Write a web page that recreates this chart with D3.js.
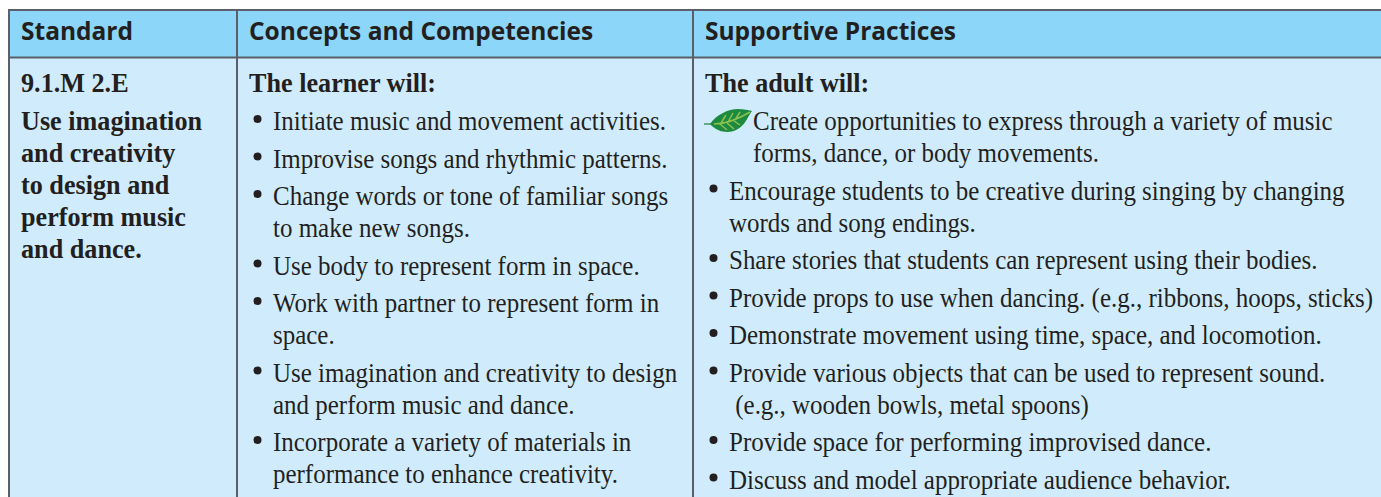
<!DOCTYPE html>
<html>
<head>
<meta charset="utf-8">
<title>Music and Dance Standard</title>
<script src="https://d3js.org/d3.v7.min.js"></script>
<style>
  html, body { margin: 0; padding: 0; background: #fff; overflow: hidden; }
  svg { display: block; }
  .head { font-family: "Open Sans", sans-serif; font-weight: 700; font-size: 25px; fill: #231f20; }
  .bold { font-family: "Liberation Serif", serif; font-weight: 700; font-size: 27px; fill: #231f20; }
  .body { font-family: "Liberation Serif", serif; font-size: 28px; fill: #231f20; }
</style>
</head>
<body>
<script>
var headers = ["Standard", "Concepts and Competencies", "Supportive Practices"];

var standardId = "9.1.M 2.E";
var standardText = ["Use imagination", "and creativity", "to design and", "perform music", "and dance."];

var learnerTitle = "The learner will:";
var learnerItems = [
  ["Initiate music and movement activities."],
  ["Improvise songs and rhythmic patterns."],
  ["Change words or tone of familiar songs", "to make new songs."],
  ["Use body to represent form in space."],
  ["Work with partner to represent form in", "space."],
  ["Use imagination and creativity to design", "and perform music and dance."],
  ["Incorporate a variety of materials in", "performance to enhance creativity."]
];

var adultTitle = "The adult will:";
var adultItems = [
  ["Create opportunities to express through a variety of music", "forms, dance, or body movements."],
  ["Encourage students to be creative during singing by changing", "words and song endings."],
  ["Share stories that students can represent using their bodies."],
  ["Provide props to use when dancing. (e.g., ribbons, hoops, sticks)"],
  ["Demonstrate movement using time, space, and locomotion."],
  ["Provide various objects that can be used to represent sound.", " (e.g., wooden bowls, metal spoons)"],
  ["Provide space for performing improvised dance."],
  ["Discuss and model appropriate audience behavior."]
];

var width = 1381, height = 497;
var colEdges = [9, 237, 693, 1381];
var tableTop = 10, headBottom = 57.5;
var titleBase = 92, firstBase = 130, wrapGap = 32, itemGap = 37.5;
var bodySqueeze = 0.892, boldSqueeze = 0.97, headSqueeze = 0.98;

var svg = d3.select("body").append("svg")
    .attr("width", width)
    .attr("height", height);

var col = d3.scaleOrdinal().domain(headers).range(colEdges);

// header and body bands
svg.append("rect").attr("x", colEdges[0]).attr("y", tableTop)
    .attr("width", width - colEdges[0]).attr("height", headBottom - tableTop).attr("fill", "#8cd6f9");
svg.append("rect").attr("x", colEdges[0]).attr("y", headBottom)
    .attr("width", width - colEdges[0]).attr("height", height - headBottom).attr("fill", "#d0ecfc");

// rules
var ruleColor = "#5b6068";
[[colEdges[0] - 1, tableTop, width, tableTop], [colEdges[0] - 1, headBottom, width, headBottom],
 [colEdges[0], tableTop - 1, colEdges[0], height], [colEdges[1], tableTop - 1, colEdges[1], height],
 [colEdges[2], tableTop - 1, colEdges[2], height]].forEach(function (r) {
  svg.append("line")
      .attr("x1", r[0]).attr("y1", r[1]).attr("x2", r[2]).attr("y2", r[3])
      .attr("stroke", ruleColor).attr("stroke-width", 2);
});

// the printed type is condensed, so squeeze each line horizontally
function addText(cls, x, y, str, squeeze) {
  return svg.append("text")
      .attr("class", cls)
      .attr("transform", "translate(" + x + "," + y + ") scale(" + squeeze + ",1)")
      .style("white-space", "pre")
      .text(str);
}

headers.forEach(function (h) {
  addText("head", col(h) + 12, 40, h, headSqueeze);
});

// standard column
addText("bold", colEdges[0] + 12, titleBase, standardId, boldSqueeze);
standardText.forEach(function (line, i) {
  addText("bold", colEdges[0] + 12, firstBase + i * wrapGap, line, boldSqueeze);
});

function leaf(x, y) {
  var g = svg.append("g").attr("transform", "translate(" + x + "," + y + ")");
  g.append("path").attr("d", "M0,0 H14").attr("stroke", "#1d7f3c").attr("stroke-width", 1.2);
  g.append("path")
      .attr("d", "M6,0 C12,-9 24,-15 34,-15 C40,-15 44,-14 48,-13 C44,-8 42,0 34,5 C26,10 14,9 6,0 Z")
      .attr("fill", "#1c8a3f");
  // veins
  g.append("path")
      .attr("d", "M10,0 C24,0 36,-6 46,-12 M17,-1 L22,-9 M24,-2 L29,-11 M31,-4 L36,-12 M16,0 L23,6 M23,-1 L30,5 M30,-3 L36,1")
      .attr("fill", "none").attr("stroke", "#8cc152").attr("stroke-width", 1.5);
}

function bulletList(title, items, left, leafFirst) {
  addText("bold", left + 12, titleBase, title, boldSqueeze);
  var y = firstBase;
  items.forEach(function (lines, i) {
    var useLeaf = leafFirst && i === 0;
    var indent = useLeaf ? 60 : 36;
    if (useLeaf) {
      leaf(left + 11, y - 6);
    } else {
      svg.append("circle").attr("class", "bullet")
          .attr("cx", left + 20.5).attr("cy", y - 11).attr("r", 4).attr("fill", "#231f20");
    }
    lines.forEach(function (line, j) {
      addText("body", left + indent, y, line, bodySqueeze);
      if (j < lines.length - 1) y += wrapGap;
    });
    y += itemGap;
  });
}

bulletList(learnerTitle, learnerItems, colEdges[1], false);
bulletList(adultTitle, adultItems, colEdges[2], true);
</script>
</body>
</html>
